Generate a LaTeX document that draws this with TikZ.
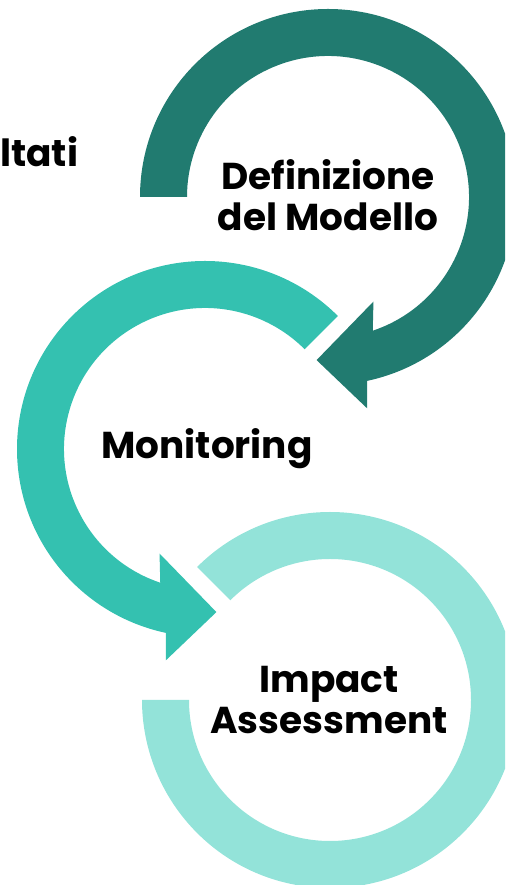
\documentclass[tikz,border=0pt]{standalone}
\usepackage{fontspec}
\setmainfont{Poppins}
\usepackage{xcolor}
\definecolor{cdark}{RGB}{33,123,112}
\definecolor{cmid}{RGB}{52,193,176}
\definecolor{clight}{RGB}{147,227,217}

\begin{document}
\begin{tikzpicture}[x=0.02cm, y=0.02cm,
    txt/.style={font=\bfseries\fontsize{21.3}{23.3}\selectfont, align=center, inner sep=0pt},
  ]
  \useasboundingbox (0,0) rectangle (505,885);
  \clip (0,0) rectangle (505,885);
  % Definizione del Modello
  \begin{scope}[shift={(328,688)}]
    \fill[cdark] (180:188) arc[start angle=180, end angle=-78, radius=188]
      -- (-79.5:215) -- (-94:163.5) -- (-66.5:114) -- (-71.5:141)
      arc[start angle=-71.5, end angle=180, radius=141] -- cycle;
  \end{scope}
  % Monitoring
  \begin{scope}[shift={(205,436)}]
    \fill[cmid] (45:188) arc[start angle=45, end angle=258, radius=188]
      -- (259.5:215) -- (274:163.5) -- (246.5:114) -- (251.5:141)
      arc[start angle=251.5, end angle=45, radius=141] -- cycle;
  \end{scope}
  % Impact Assessment
  \begin{scope}[shift={(330,185)}]
    \fill[clight] (135:188) arc[start angle=135, end angle=-180, radius=188]
      -- (180:141) arc[start angle=-180, end angle=135, radius=141] -- cycle;
  \end{scope}
  % labels
  \node[txt] (defmod) at (328,690) {Definizione\\del Modello};
  \node[txt] (monitor) at (207,436) {Monitoring};
  \node[txt] (impact) at (329,185) {Impact\\Assessment};
  \node[txt, anchor=base west] (risult) at (0,718) {ltati};
\end{tikzpicture}
\end{document}
